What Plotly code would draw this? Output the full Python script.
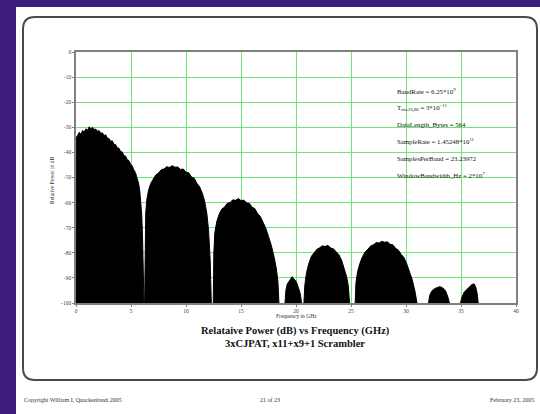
import plotly.graph_objects as go

# ---------------- data ----------------
lobe1_freq = [0.0, 0.0, 0.03, 0.15, 0.3, 0.45, 0.6, 0.75, 0.9, 1.05, 1.2, 1.35, 1.5, 1.65, 1.8, 1.95,
              2.1, 2.25, 2.4, 2.55, 2.7, 2.85, 3.0, 3.15, 3.3, 3.45, 3.6, 3.75, 3.9, 4.05, 4.2, 4.35,
              4.5, 4.65, 4.8, 4.95, 5.1, 5.25, 5.4, 5.55, 5.7, 5.8, 5.9, 5.98, 6.05, 6.12, 6.18]
lobe1_db = [-100, -40, -34, -33.2, -32.0, -32.8, -31.3, -31.9, -30.6, -31.2, -29.8, -30.6, -30.0, -30.9,
            -30.7, -31.6, -31.3, -32.4, -32.2, -33.3, -33.0, -34.3, -34.5, -35.6, -35.4, -36.8, -36.9,
            -38.1, -38.3, -39.6, -39.8, -41.2, -41.4, -42.9, -43.2, -44.6, -45.3, -46.9, -48.0, -50.2,
            -52.5, -55.5, -59.5, -65, -74, -86, -100]

lobe2_freq = [6.24, 6.28, 6.34, 6.45, 6.6, 6.8, 7.0, 7.25, 7.5, 7.75, 8.0, 8.25, 8.5, 8.75, 9.0, 9.25,
              9.5, 9.75, 10.0, 10.25, 10.5, 10.75, 11.0, 11.25, 11.5, 11.7, 11.9, 12.05, 12.2, 12.3]
lobe2_db = [-100, -76, -64, -58.5, -55, -52.3, -50.8, -49.0, -48.2, -46.9, -46.6, -45.7, -46.0, -45.3,
            -45.9, -45.8, -46.8, -46.6, -47.9, -48.1, -49.8, -50.3, -52.4, -53.8, -56.5, -59.5, -64.5,
            -71, -83, -100]

lobe3_freq = [12.48, 12.53, 12.62, 12.8, 13.0, 13.25, 13.5, 13.75, 14.0, 14.25, 14.5, 14.75, 15.0,
              15.25, 15.5, 15.75, 16.0, 16.25, 16.5, 16.75, 17.0, 17.25, 17.5, 17.75, 18.0, 18.2,
              18.35, 18.45]
lobe3_db = [-100, -80, -72, -67.5, -64.8, -62.6, -61.8, -60.3, -60.0, -58.9, -59.1, -58.4, -59.2, -59.0,
            -60.1, -60.3, -61.8, -62.4, -64.3, -65.5, -67.8, -70.2, -73.5, -77.0, -81.5, -86, -91, -100]

lobe4_freq = [19.0, 19.08, 19.2, 19.35, 19.5, 19.65, 19.8, 19.95, 20.1, 20.25, 20.4, 20.5]
lobe4_db = [-100, -95, -92.5, -91.5, -90.2, -89.5, -90.4, -91, -92.3, -94.2, -96.5, -100]

lobe5_freq = [20.72, 20.8, 20.95, 21.15, 21.4, 21.65, 21.9, 22.15, 22.4, 22.65, 22.9, 23.15, 23.4,
              23.65, 23.9, 24.15, 24.4, 24.6, 24.75, 24.87]
lobe5_db = [-100, -93, -88, -84.5, -81.4, -79.8, -78.6, -78.0, -77.2, -77.5, -77.0, -78.1, -78.4,
            -79.6, -80.8, -83.0, -86.2, -89.5, -93, -100]

lobe6_freq = [25.38, 25.45, 25.6, 25.8, 26.05, 26.3, 26.55, 26.8, 27.05, 27.3, 27.55, 27.8, 28.05,
              28.3, 28.55, 28.8, 29.05, 29.3, 29.55, 29.8, 30.05, 30.3, 30.55, 30.8, 31.0]
lobe6_db = [-100, -92, -87.5, -84.3, -81.5, -79.6, -78.5, -77.2, -76.8, -75.9, -76.1, -75.4, -75.8,
            -75.6, -76.6, -76.8, -78.2, -78.9, -80.6, -81.8, -84.2, -87.0, -90.5, -95, -100]

lobe7_freq = [32.05, 32.15, 32.35, 32.6, 32.85, 33.1, 33.35, 33.6, 33.8, 33.95]
lobe7_db = [-100, -97, -95.2, -94.3, -93.8, -93.5, -94.0, -95.2, -97.5, -100]

lobe8_freq = [34.95, 35.1, 35.3, 35.55, 35.8, 36.0, 36.2, 36.35, 36.48, 36.56]
lobe8_db = [-100, -97.5, -95.6, -94.5, -93.4, -92.6, -92.4, -93.8, -96.5, -100]

x_tick_values = [0, 5, 10, 15, 20, 25, 30, 35, 40]
x_tick_labels = ["0", "5", "10", "15", "20", "25", "30", "35", "40"]
y_tick_values = [0, -10, -20, -30, -40, -50, -60, -70, -80, -90, -100]
y_tick_labels = ["0", "-10", "-20", "-30", "-40", "-50", "-60", "-70", "-80", "-90", "-100"]

param_lines = [
    "BaudRate = 6.25*10<sup>9</sup>",
    "T<sub>rise20,80</sub> = 3*10<sup>−11</sup>",
    "DataLength_Bytes = 564",
    "SampleRate = 1.45248*10<sup>11</sup>",
    "SamplesPerBaud = 23.23972",
    "WindowBandwidth_Hz = 2*10<sup>7</sup>",
]

title_line1 = "Relataive Power (dB) vs Frequency (GHz)"
title_line2 = "3xCJPAT, x11+x9+1 Scrambler"
x_title = "Frequency in GHz"
y_title = "Relative Power in dB"
footer_left = "Copyright William I. Quackenbush 2005"
footer_mid = "21 of 23"
footer_right = "February 23, 2005"

# ---------------- layout geometry ----------------
W, H = 540, 414
PL, PR, PT, PB = 76, 516, 52, 303   # plot area in pixels


def px(x):
    return (x - PL) / (PR - PL)


def py(y):
    return (PB - y) / (PB - PT)


SERIF = "Liberation Serif, Times New Roman, serif"
PURPLE = "#3d1e7e"
GRID = "rgb(110,232,110)"

fig = go.Figure()

lobes = [(lobe1_freq, lobe1_db), (lobe2_freq, lobe2_db), (lobe3_freq, lobe3_db),
         (lobe4_freq, lobe4_db), (lobe5_freq, lobe5_db), (lobe6_freq, lobe6_db),
         (lobe7_freq, lobe7_db), (lobe8_freq, lobe8_db)]
for fx, fy in lobes:
    fig.add_trace(go.Scatter(x=fx, y=fy, mode="lines", fill="toself",
                             fillcolor="black", line=dict(color="black", width=1),
                             hoverinfo="skip", showlegend=False))

# rounded white card
x0, x1, y0, y1, r = 23, 537, 17, 380, 12


def P(x, y):
    return f"{px(x):.5f},{py(y):.5f}"


card_path = (f"M {P(x0 + r, y0)} L {P(x1 - r, y0)} Q {P(x1, y0)} {P(x1, y0 + r)} "
             f"L {P(x1, y1 - r)} Q {P(x1, y1)} {P(x1 - r, y1)} "
             f"L {P(x0 + r, y1)} Q {P(x0, y1)} {P(x0, y1 - r)} "
             f"L {P(x0, y0 + r)} Q {P(x0, y0)} {P(x0 + r, y0)} Z")

shapes = [
    dict(type="rect", xref="paper", yref="paper", x0=px(0), x1=px(W), y0=py(7), y1=py(0),
         fillcolor=PURPLE, line=dict(width=0), layer="below"),
    dict(type="rect", xref="paper", yref="paper", x0=px(0), x1=px(16), y0=py(H), y1=py(0),
         fillcolor=PURPLE, line=dict(width=0), layer="below"),
    dict(type="path", xref="paper", yref="paper", path=card_path,
         fillcolor="white", line=dict(color="#4a4a4a", width=2), layer="below"),
]

annotations = []
param_y = [91, 108, 125, 141, 158, 175]
for txt, yy in zip(param_lines, param_y):
    annotations.append(dict(text=txt, xref="paper", yref="paper", x=px(395), y=py(yy),
                            xanchor="left", yanchor="middle", showarrow=False,
                            font=dict(family=SERIF, size=6.8, color="#111")))
annotations += [
    dict(text=f"<b>{title_line1}</b>", xref="paper", yref="paper", x=px(295), y=py(331),
         xanchor="center", yanchor="middle", showarrow=False,
         font=dict(family=SERIF, size=10.5, color="#111")),
    dict(text=f"<b>{title_line2}</b>", xref="paper", yref="paper", x=px(295), y=py(343),
         xanchor="center", yanchor="middle", showarrow=False,
         font=dict(family=SERIF, size=10.5, color="#111")),
    dict(text=x_title, xref="paper", yref="paper", x=px(296), y=py(316),
         xanchor="center", yanchor="middle", showarrow=False,
         font=dict(family=SERIF, size=5.5, color="#333")),
    dict(text=y_title, xref="paper", yref="paper", x=px(52), y=py(180), textangle=-90,
         xanchor="center", yanchor="middle", showarrow=False,
         font=dict(family=SERIF, size=5.5, color="#333")),
    dict(text=footer_left, xref="paper", yref="paper", x=px(22), y=py(400),
         xanchor="left", yanchor="middle", showarrow=False,
         font=dict(family=SERIF, size=6, color="#333")),
    dict(text=footer_mid, xref="paper", yref="paper", x=px(270), y=py(400),
         xanchor="center", yanchor="middle", showarrow=False,
         font=dict(family=SERIF, size=6, color="#333")),
    dict(text=footer_right, xref="paper", yref="paper", x=px(536), y=py(400),
         xanchor="right", yanchor="middle", showarrow=False,
         font=dict(family=SERIF, size=6, color="#333")),
]

fig.update_layout(
    width=W, height=H,
    margin=dict(l=PL, r=W - PR, t=PT, b=H - PB, pad=0),
    paper_bgcolor="white", plot_bgcolor="white",
    showlegend=False,
    shapes=shapes, annotations=annotations,
    xaxis=dict(range=[0, 40], tickvals=x_tick_values, ticktext=x_tick_labels,
               showgrid=True, gridcolor=GRID, gridwidth=1, zeroline=False,
               showline=True, linecolor="#808080", linewidth=1.5, mirror=True,
               ticks="outside", ticklen=2, tickcolor="#808080",
               tickfont=dict(family=SERIF, size=5.5, color="#444"), layer="below traces"),
    yaxis=dict(range=[-100, 0], tickvals=y_tick_values, ticktext=y_tick_labels,
               showgrid=True, gridcolor=GRID, gridwidth=1, zeroline=False,
               showline=True, linecolor="#808080", linewidth=1.5, mirror=True,
               ticks="outside", ticklen=2, tickcolor="#808080",
               tickfont=dict(family=SERIF, size=5.5, color="#444"), layer="below traces"),
)

fig.write_html("out.html")
